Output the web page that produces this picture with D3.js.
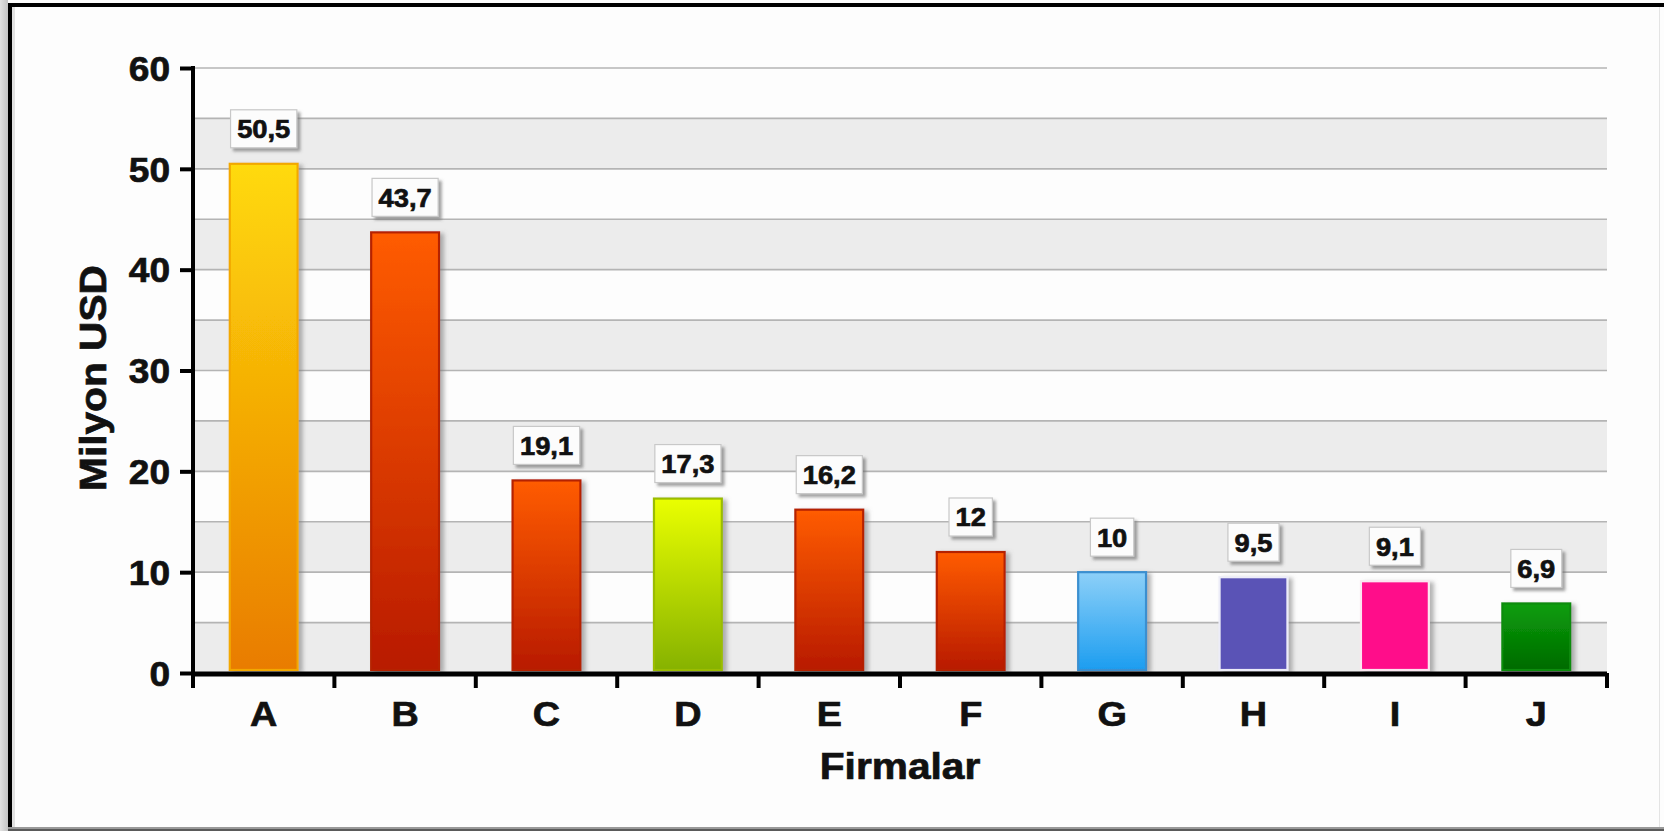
<!DOCTYPE html>
<html>
<head>
<meta charset="utf-8">
<script src="https://cdn.jsdelivr.net/npm/d3@7"></script>
<style>
html,body{margin:0;padding:0;background:#fff;}
svg{display:block;}
text{font-family:"Liberation Sans",Arial,sans-serif;font-weight:bold;fill:#111;stroke:#111;stroke-width:0.7px;}
</style>
</head>
<body>
<svg id="chart" width="1664" height="831"></svg>
<script>
// ---- data ----
const categories = ["A","B","C","D","E","F","G","H","I","J"];
const values = [50.5, 43.7, 19.1, 17.3, 16.2, 12, 10, 9.5, 9.1, 6.9];
const valueLabels = ["50,5","43,7","19,1","17,3","16,2","12","10","9,5","9,1","6,9"];
const yTicks = [0,10,20,30,40,50,60];
const yTitle = "Milyon USD";
const xTitle = "Firmalar";

// bar styles: [top colour, bottom colour, stroke]
const barStyles = [
  ["#FFDA0A","#E97C00","#F2A800"],
  ["#FF5C00","#B81A00","#B52000"],
  ["#FF5C00","#B81A00","#B52000"],
  ["#EAFF00","#86B200","#9BBC00"],
  ["#FF5C00","#B81A00","#B52000"],
  ["#FF5C00","#B81A00","#B52000"],
  ["#8DD0F8","#1C9DF0","#3A8FD0"],
  ["#5A53B6","#5A53B6","#ECECF8"],
  ["#FF0A8A","#FF0A8A","#FBE6F0"],
  ["#0B9E0B","#006A00","#0C8C0C"]
];

const svg = d3.select("#chart");
const W = 1664, H = 831;
const m = {left:193, right:1607, top:68, bottom:673};

const defs = svg.append("defs");
const lg = defs.append("linearGradient").attr("id","leftEdge").attr("x1",0).attr("x2",1);
lg.append("stop").attr("offset","0%").attr("stop-color","#e2e2e2");
lg.append("stop").attr("offset","100%").attr("stop-color","#c4c4c4");

barStyles.forEach((s,i)=>{
  const g = defs.append("linearGradient").attr("id","bg"+i).attr("x1",0).attr("y1",0).attr("x2",0).attr("y2",1);
  g.append("stop").attr("offset","0%").attr("stop-color",s[0]);
  g.append("stop").attr("offset","100%").attr("stop-color",s[1]);
});
const f = defs.append("filter").attr("id","shadow").attr("x","-20%").attr("y","-20%").attr("width","150%").attr("height","150%");
f.append("feDropShadow").attr("dx",4).attr("dy",2).attr("stdDeviation",2).attr("flood-color","#777").attr("flood-opacity",0.55);
const f2 = defs.append("filter").attr("id","boxshadow").attr("x","-20%").attr("y","-20%").attr("width","150%").attr("height","160%");
f2.append("feDropShadow").attr("dx",3).attr("dy",3).attr("stdDeviation",1.5).attr("flood-color","#666").attr("flood-opacity",0.6);

// frame
svg.append("rect").attr("x",0).attr("y",0).attr("width",W).attr("height",H).attr("fill","#fdfdfd");
svg.append("rect").attr("x",0).attr("y",0).attr("width",8).attr("height",H).attr("fill","url(#leftEdge)");
svg.append("rect").attr("x",11).attr("y",5).attr("width",4).attr("height",H-8).attr("fill","#cfcfcf").attr("opacity",0.6);
svg.append("rect").attr("x",8).attr("y",3).attr("width",W-8).attr("height",4).attr("fill","#000");
svg.append("rect").attr("x",8).attr("y",3).attr("width",4).attr("height",H-5).attr("fill","#000");
svg.append("rect").attr("x",1659).attr("y",7).attr("width",1).attr("height",H-10).attr("fill","#e4e4e4");
svg.append("rect").attr("x",8).attr("y",827).attr("width",W-8).attr("height",2).attr("fill","#9a9a9a");
svg.append("rect").attr("x",8).attr("y",829).attr("width",W-8).attr("height",2).attr("fill","#5a5a5a");

// scales
const x = d3.scaleBand().domain(categories).range([m.left, m.right]).paddingInner(0.52).paddingOuter(0.26);
const y = d3.scaleLinear().domain([0,60]).range([m.bottom, m.top]);

// alternating bands
const bandStarts = d3.range(0,60,10);
svg.append("g").selectAll("rect").data(bandStarts).join("rect")
  .attr("x",m.left+2).attr("width",m.right-m.left-2)
  .attr("y",d=>y(d+5)).attr("height",d=>y(d)-y(d+5))
  .attr("fill","#ececec");

// grid lines
svg.append("g").selectAll("line").data(d3.range(5,61,5)).join("line")
  .attr("x1",m.left).attr("x2",m.right)
  .attr("y1",d=>y(d)).attr("y2",d=>y(d))
  .attr("stroke","#b4b4b4").attr("stroke-width",1.6);

// bars
svg.append("g").selectAll("rect").data(values).join("rect")
  .attr("x",(d,i)=>x(categories[i]))
  .attr("width",x.bandwidth())
  .attr("y",d=>y(d))
  .attr("height",d=>y(0)-y(d)-3)
  .attr("fill",(d,i)=>"url(#bg"+i+")")
  .attr("stroke",(d,i)=>barStyles[i][2])
  .attr("stroke-width",2.2)
  .attr("filter","url(#shadow)");

// value label boxes
const lab = svg.append("g").selectAll("g").data(values).join("g")
  .attr("transform",(d,i)=>`translate(${x(categories[i])+x.bandwidth()/2},${y(d)-35})`);
lab.each(function(d,i){
  const g = d3.select(this);
  const rect = g.append("rect");
  const t = g.append("text").attr("text-anchor","middle").attr("dy","0.36em")
    .attr("font-size",26).attr("transform","scale(1.05,1)").text(valueLabels[i]);
  const w = t.node().getBBox().width*1.05 + 13;
  rect.attr("x",-w/2).attr("y",-19).attr("width",w).attr("height",38)
    .attr("fill","#fcfcfc").attr("stroke","#c8c8c8").attr("stroke-width",1.2)
    .attr("filter","url(#boxshadow)");
});

// y axis
const yAxis = svg.append("g").attr("transform",`translate(${m.left},0)`)
  .call(d3.axisLeft(y).tickValues(yTicks).tickSize(13).tickPadding(10).tickFormat(d3.format("d")));
yAxis.select(".domain").attr("stroke","#000").attr("stroke-width",4).attr("d",`M0,${m.top-2}V${m.bottom}`);
yAxis.selectAll(".tick line").attr("stroke","#000").attr("stroke-width",4);
yAxis.selectAll(".tick text").attr("font-size",35).style("font-family","Liberation Sans, Arial, sans-serif")
  .style("font-weight","bold").attr("fill","#111").attr("dy","0.35em")
  .attr("transform","translate(-24,0) scale(1.06,1) translate(24,0)");

// x axis
const xAxis = svg.append("g").attr("transform",`translate(0,${m.bottom+1})`)
  .call(d3.axisBottom(x).tickSize(0).tickPadding(52));
xAxis.select(".domain").attr("stroke","#000").attr("stroke-width",5).attr("d",`M${m.left-2},0H${m.right}`);
xAxis.selectAll(".tick text").attr("font-size",35).style("font-family","Liberation Sans, Arial, sans-serif")
  .style("font-weight","bold").attr("fill","#111").attr("dy","0")
  .attr("transform","scale(1.08,1)");
// ticks at band boundaries
const bounds = categories.map(c=>x(c)-x.step()*x.paddingInner()/2).concat([m.right]);
bounds[0] = m.left;
svg.append("g").selectAll("line").data(bounds).join("line")
  .attr("x1",d=>d).attr("x2",d=>d).attr("y1",m.bottom).attr("y2",m.bottom+15)
  .attr("stroke","#000").attr("stroke-width",4);

// titles
svg.append("text").attr("text-anchor","middle")
  .attr("transform",`translate(${(m.left+m.right)/2},779) scale(1.13,1)`)
  .attr("font-size",36).text(xTitle);
svg.append("text").attr("text-anchor","middle")
  .attr("transform",`translate(106,378) rotate(-90) scale(1.13,1)`)
  .attr("font-size",36).text(yTitle);
</script>
</body>
</html>
